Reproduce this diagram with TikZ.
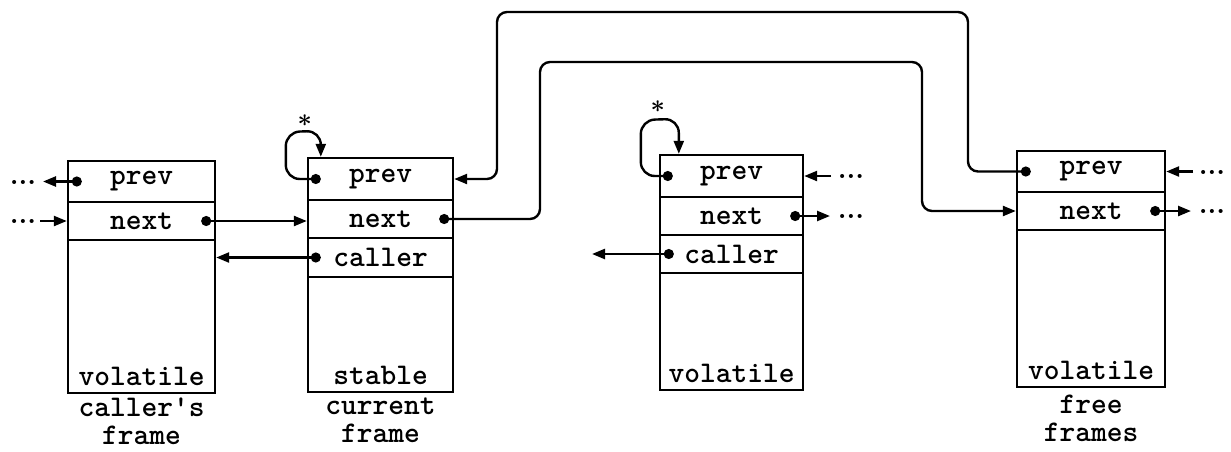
\documentclass[tikz,border=0pt]{standalone}
\usetikzlibrary{arrows.meta,calc}
\begin{document}
\begin{tikzpicture}[x=1pt,y=-1pt,
  cell/.style={draw, line width=2.4pt, inner sep=0pt, font=\ttfamily\bfseries\fontsize{30}{30}\selectfont},
  txt/.style={inner sep=0pt, font=\ttfamily\bfseries\fontsize{30}{28}\selectfont},
  ptr/.style={line width=2.4pt, rounded corners=10pt, {Circle[length=10pt]}-{Triangle[length=13pt,width=10pt]}},
  arr/.style={line width=2.4pt, -{Triangle[length=13pt,width=10pt]}},
  dts/.style={inner sep=0pt, font=\bfseries\fontsize{28}{28}\selectfont, anchor=base},
  star/.style={inner sep=0pt, font=\boldmath\fontsize{26}{26}\selectfont}]
\useasboundingbox (0,0) rectangle (1231,451);

% caller's frame
\node[cell, minimum width=147pt, minimum height=41pt] (Ap) at (141.5,181.5) {prev};
\node[cell, minimum width=147pt, minimum height=38pt] (An) at (141.5,221) {next};
\node[cell, minimum width=147pt, minimum height=153pt] (Ab) at (141.5,316.5) {};
\node[txt, anchor=base] (Abt) at ($(Ab.south)+(0,-9)$) {volatile};
\node[txt, align=center, anchor=north] (Acap) at (141.5,398) {caller's\\frame};

% current frame
\node[cell, minimum width=145pt, minimum height=42pt] (Bp) at (380.5,179) {prev};
\node[cell, minimum width=145pt, minimum height=38pt] (Bn) at (380.5,219) {next};
\node[cell, minimum width=145pt, minimum height=39pt] (Bc) at (380.5,257.5) {caller};
\node[cell, minimum width=145pt, minimum height=115pt] (Bb) at (380.5,334.5) {};
\node[txt, anchor=base] (Bbt) at ($(Bb.south)+(0,-9)$) {stable};
\node[txt, align=center, anchor=north] (Bcap) at (380.5,398) {current\\frame};

% middle frame
\node[cell, minimum width=143pt, minimum height=42pt] (Cp) at (731.5,176) {prev};
\node[cell, minimum width=143pt, minimum height=38pt] (Cn) at (731.5,216) {next};
\node[cell, minimum width=143pt, minimum height=38pt] (Cc) at (731.5,254) {caller};
\node[cell, minimum width=143pt, minimum height=117pt] (Cb) at (731.5,331.5) {};
\node[txt, anchor=base] (Cbt) at ($(Cb.south)+(0,-9)$) {volatile};

% free frames
\node[cell, minimum width=148pt, minimum height=41pt] (Dp) at (1091,171.5) {prev};
\node[cell, minimum width=148pt, minimum height=38pt] (Dn) at (1091,211) {next};
\node[cell, minimum width=148pt, minimum height=157pt] (Db) at (1091,308.5) {};
\node[txt, anchor=base] (Dbt) at ($(Db.south)+(0,-9)$) {volatile};
\node[txt, align=center, anchor=north] (Dcap) at (1091,395) {free\\frames};

% ellipses
\node[dts] (e1) at (23,184) {...};
\node[dts] (e2) at (23,223.5) {...};
\node[dts] (e3) at (851,178.5) {...};
\node[dts] (e4) at (851,218.5) {...};
\node[dts] (e5) at (1212,174) {...};
\node[dts] (e6) at (1212,213.5) {...};

% free ends
\coordinate (a0) at (43,181.5);
\coordinate (a1) at (40,221);
\coordinate (c0) at (831,176);
\coordinate (c1) at (830,216);
\coordinate (c2) at (592,254);
\coordinate (f0) at (1193,171.5);
\coordinate (f1) at (1191,211);
\coordinate (k1) at (540,62);
\coordinate (k2) at (922,62);
\coordinate (k3) at (968,12);
\coordinate (k4) at (497,12);

% stars
\node[star] (s1) at ($(Bp.north west)+(-2,-36)$) {$*$};
\node[star] (s2) at ($(Cp.north west)+(-1,-47)$) {$*$};

% caller's frame links
\draw[ptr] ($(Ap.west)+(15,0)$) -- (a0);
\draw[arr] (a1) -- (An.west);
\draw[ptr] ($(An.east)+(-15,0)$) -- (An.east -| Bn.west);

% current frame links
\draw[ptr] ($(Bc.west)+(14,0)$) -- (Bc.west -| Ab.east);
\draw[ptr, rounded corners=14pt] ($(Bp.west)+(14,0)$) -- ++(-35,0) -- ++(0,-47)
   -- ($(Bp.north west)+(14,-26)$) -- ($(Bp.north west)+(14,0)$);
\draw[ptr] ($(Bn.east)+(-15,0)$) -| (k1) -- (k2) |- (Dn.west);
\draw[ptr] ($(Dp.west)+(15,0)$) -| (k3) -- (k4) |- (Bp.east);

% middle frame links
\draw[ptr, rounded corners=14pt] ($(Cp.west)+(14,0)$) -- ++(-32,0) -- ++(0,-56)
   -- ($(Cp.north west)+(20,-35)$) -- ($(Cp.north west)+(20,0)$);
\draw[arr] (c0) -- (Cp.east);
\draw[ptr] ($(Cn.east)+(-14,0)$) -- (c1);
\draw[ptr] ($(Cc.west)+(15,0)$) -- (c2);

% free frames links
\draw[arr] (f0) -- (Dp.east);
\draw[ptr] ($(Dn.east)+(-16,0)$) -- (f1);
\end{tikzpicture}
\end{document}
